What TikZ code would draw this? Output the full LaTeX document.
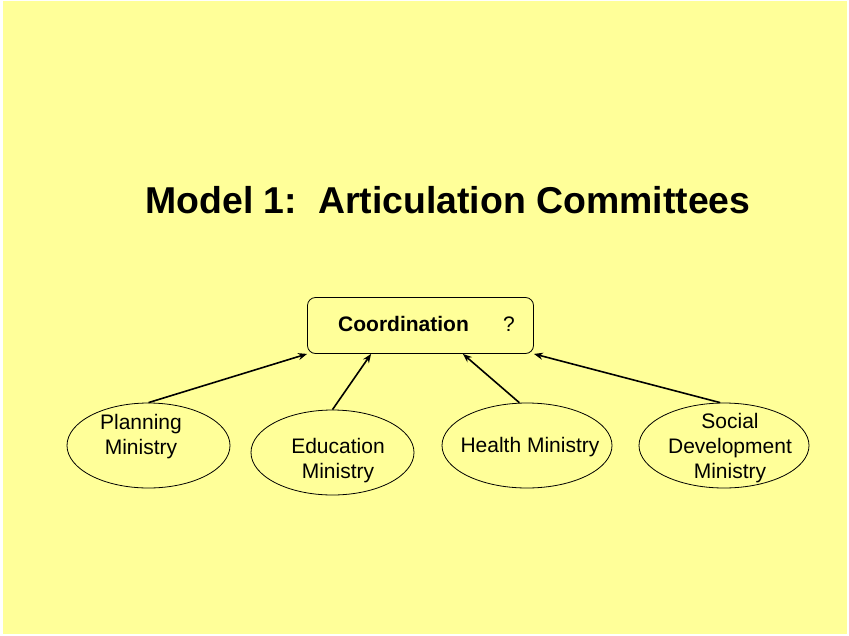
\documentclass[tikz,border=0pt]{standalone}
\usepackage{fontspec}
\setmainfont{Liberation Sans}
\usetikzlibrary{shapes.geometric,arrows.meta}
\definecolor{bgyellow}{HTML}{FFFF99}
\begin{document}
\begin{tikzpicture}[x=1pt,y=-1pt,
  ministry/.style={ellipse,draw=black,line width=0.8pt,inner sep=0pt,minimum height=85pt},
  lbl/.style={align=center,inner sep=0pt,font=\fontsize{21}{25}\selectfont},
  conn/.style={line width=1.6pt,-{Stealth[length=9pt,width=7pt]}}]
\useasboundingbox (0,0) rectangle (849,635);
\fill[white] (0,0) rectangle (849,635);
\fill[bgyellow] (3,1) rectangle (847,634);
\node[font=\bfseries\fontsize{37.4}{44}\selectfont,inner sep=0pt] (title) at (448,200) {Model 1:\hspace{0.56em}Articulation Committees};
\node[draw=black,line width=0.8pt,rounded corners=8pt,minimum width=226pt,minimum height=56pt,inner sep=0pt] (co) at (420.5,325.5) {};
\node[font=\bfseries\fontsize{21}{25}\selectfont,inner sep=0pt] (coord) at (403.5,324) {Coordination};
\node[font=\fontsize{21}{25}\selectfont,inner sep=0pt] (q) at (509,324) {?};
\node[ministry,minimum width=163pt] (pl) at (148.5,445.5) {};
\node[ministry,minimum width=163pt] (ed) at (332.5,452.5) {};
\node[ministry,minimum width=170pt] (he) at (527,445.5) {};
\node[ministry,minimum width=170pt] (so) at (724,445.5) {};
\node[lbl] (plt) at (141,436.5) {Planning\\Ministry};
\node[lbl] (edt) at (338,460.5) {Education\\Ministry};
\node[lbl] (het) at (530,447.5) {Health Ministry};
\node[lbl] (sot) at (730,448) {Social\\Development\\Ministry};
\draw[conn] (pl.north) -- (co.south west);
\draw[conn] (ed.north) -- ([xshift=64pt]co.south west);
\draw[conn] (he.100) -- ([xshift=-71pt]co.south east);
\draw[conn] (so.95) -- (co.south east);
\end{tikzpicture}
\end{document}
